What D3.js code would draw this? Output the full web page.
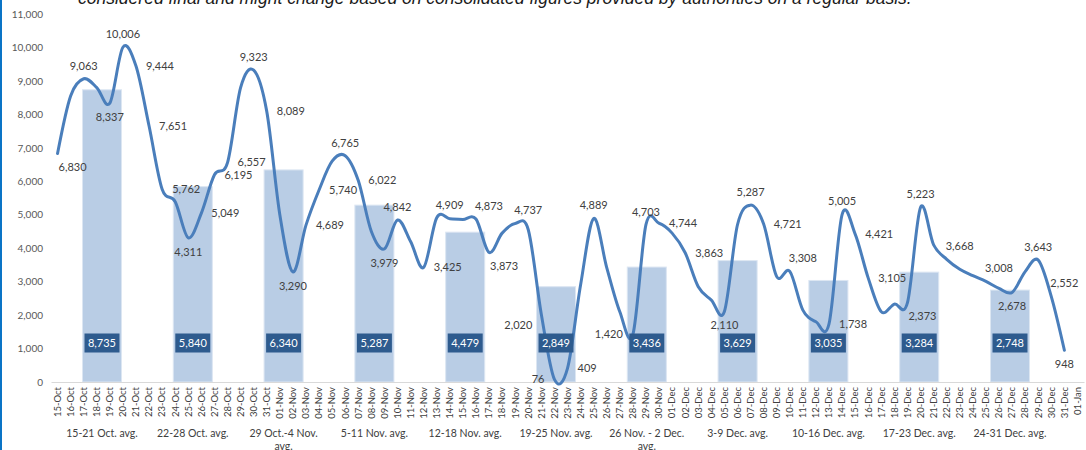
<!DOCTYPE html>
<html>
<head>
<meta charset="utf-8">
<script src="https://cdn.jsdelivr.net/npm/d3@7"></script>
<style>
body { margin: 0; background: #fff; }
svg { display: block; font-family: Lato, "Open Sans", sans-serif; }
.top-note { font-family: "Liberation Sans", sans-serif; font-style: italic; font-size: 17.5px; fill: #1a1a1a; }
.yaxis text { font-size: 10px; fill: #595959; font-family: Lato, sans-serif; }
.xaxis text { font-size: 9.5px; fill: #404040; font-family: Lato, sans-serif; }
.xaxis path { stroke: #d9d9d9; }
.week { font-size: 10.5px; fill: #404040; }
.val { font-size: 11px; fill: #404040; }
.bar { fill: #b9cde5; stroke: #dce6f2; stroke-width: 1; }
.avg-box { fill: #2e5b8e; }
.avg-text { font-size: 11px; fill: #fff; }
.daily { fill: none; stroke: #4a7ebb; stroke-width: 3; stroke-linejoin: round; stroke-linecap: round; }
</style>
</head>
<body>
<svg id="chart" width="1086" height="450"></svg>
<script>
// daily categories on the x axis
var days = ["15-Oct", "16-Oct", "17-Oct", "18-Oct", "19-Oct", "20-Oct", "21-Oct", "22-Oct", "23-Oct",
  "24-Oct", "25-Oct", "26-Oct", "27-Oct", "28-Oct", "29-Oct", "30-Oct", "31-Oct",
  "01-Nov", "02-Nov", "03-Nov", "04-Nov", "05-Nov", "06-Nov", "07-Nov", "08-Nov", "09-Nov", "10-Nov",
  "11-Nov", "12-Nov", "13-Nov", "14-Nov", "15-Nov", "16-Nov", "17-Nov", "18-Nov", "19-Nov", "20-Nov",
  "21-Nov", "22-Nov", "23-Nov", "24-Nov", "25-Nov", "26-Nov", "27-Nov", "28-Nov", "29-Nov", "30-Nov",
  "01-Dec", "02-Dec", "03-Dec", "04-Dec", "05-Dec", "06-Dec", "07-Dec", "08-Dec", "09-Dec", "10-Dec",
  "11-Dec", "12-Dec", "13-Dec", "14-Dec", "15-Dec", "16-Dec", "17-Dec", "18-Dec", "19-Dec", "20-Dec",
  "21-Dec", "22-Dec", "23-Dec", "24-Dec", "25-Dec", "26-Dec", "27-Dec", "28-Dec", "29-Dec", "30-Dec",
  "31-Dec", "01-Jan"];

// daily values (15-Oct .. 31-Dec)
var daily = [6830, 8550, 9063, 8800, 8337, 10006, 9444, 7651, 5762, 5390, 4311, 5049, 6195, 6557,
  8800, 9323, 8089, 5000, 3290, 4689, 5740, 6600, 6765, 6022, 4500, 3979, 4842, 4200, 3425,
  4909, 4880, 4860, 4873, 3873, 4450, 4737, 4550, 2020, 76, 409, 2900, 4889, 3420, 2100, 1420,
  4703, 4744, 4450, 3863, 2850, 2450, 2110, 4700, 5287, 4721, 3150, 3308, 2150, 1800, 1738,
  5005, 4421, 3105, 2100, 2330, 2373, 5223, 4100, 3668, 3370, 3180, 3008, 2800, 2678, 3300,
  3643, 2552, 948];

// which daily points carry a value label, and where ("" = none)
var labelPos = ["br", "", "t", "", "b", "t", "r", "r", "r", "", "b", "r", "r", "r",
  "", "t", "r", "", "b", "r", "r", "", "t", "r", "", "b", "t", "", "r",
  "tr", "", "", "tr", "br", "", "tr", "", "bl", "l", "r", "", "t", "", "", "l",
  "t", "r", "", "r", "", "", "b", "", "t", "r", "", "tr", "", "", "r",
  "t", "r", "r", "", "", "br", "t", "", "tr", "", "", "tr", "", "b", "",
  "t", "tr", "b"];

// weekly averages (bars)
var weeks = ["15-21 Oct. avg.", "22-28 Oct. avg.", "29 Oct.-4 Nov. avg.", "5-11 Nov. avg.",
  "12-18 Nov. avg.", "19-25 Nov. avg.", "26 Nov. - 2 Dec. avg.", "3-9 Dec. avg.",
  "10-16 Dec. avg.", "17-23 Dec. avg.", "24-31 Dec. avg."];
var weekAvg = [8735, 5840, 6340, 5287, 4479, 2849, 3436, 3629, 3035, 3284, 2748];

var yTicks = [0, 1000, 2000, 3000, 4000, 5000, 6000, 7000, 8000, 9000, 10000, 11000];

var note = "considered final and might change based on consolidated figures provided by authorities on a regular basis.";

var svg = d3.select("#chart");
var fmt = d3.format(",");

var x = d3.scaleBand().domain(days).range([51, 1084]);
var xw = d3.scalePoint().domain(weeks).range([56.6, 1055.4]).padding(0.5);
var y = d3.scaleLinear().domain([0, 11000]).range([382, 14]);

function cx(i) {
  return x(days[i]) + x.bandwidth() / 2;
}

// cut-off note at the very top
svg.append("text")
  .attr("class", "top-note")
  .attr("x", 78)
  .attr("y", 4)
  .text(note);

// blue frame edge on the left
svg.append("line")
  .attr("x1", 1).attr("x2", 1)
  .attr("y1", 0).attr("y2", 450)
  .attr("stroke", "#0a74c6")
  .attr("stroke-width", 2);

// y axis labels only
var yAxis = svg.append("g")
  .attr("class", "yaxis")
  .attr("transform", "translate(46,0)")
  .call(d3.axisLeft(y).tickValues(yTicks).tickSize(0).tickPadding(3).tickFormat(fmt));
yAxis.select(".domain").remove();

// weekly bars
var barW = xw.step() * 0.43;
svg.append("g").selectAll("rect")
  .data(weekAvg)
  .enter()
  .append("rect")
  .attr("class", "bar")
  .attr("x", function(d, i) { return xw(weeks[i]) - barW / 2; })
  .attr("y", function(d) { return y(d); })
  .attr("width", barW)
  .attr("height", function(d) { return y(0) - y(d); });

// x axis with rotated day labels
var xAxis = svg.append("g")
  .attr("class", "xaxis")
  .attr("transform", "translate(0," + y(0) + ")")
  .call(d3.axisBottom(x).tickSize(0).tickSizeOuter(0));
xAxis.selectAll(".tick text")
  .attr("transform", "rotate(-90)")
  .attr("text-anchor", "end")
  .attr("x", -5)
  .attr("y", 0)
  .attr("dy", "0.35em");

// week captions under the axis; long ones drop "avg." to a second line
svg.append("g").selectAll("text")
  .data(weeks)
  .enter()
  .append("text")
  .attr("class", "week")
  .attr("text-anchor", "middle")
  .attr("x", function(d) { return xw(d); })
  .attr("y", 437)
  .each(function(d) {
    var t = d3.select(this);
    var first = t.append("tspan").attr("x", xw(d)).text(d);
    if (first.node().getComputedTextLength() > 74) {
      var cut = d.lastIndexOf(" ");
      first.text(d.slice(0, cut));
      t.append("tspan").attr("x", xw(d)).attr("dy", "1.25em").text(d.slice(cut + 1));
    }
  });

// daily smoothed line
var line = d3.line()
  .x(function(d, i) { return cx(i); })
  .y(function(d) { return y(d); })
  .curve(d3.curveCardinal.tension(0));

svg.append("path")
  .datum(daily)
  .attr("class", "daily")
  .attr("d", line);

// value labels on the line
var offs = {
  t: [0, -13, "middle"],
  b: [0, 14, "middle"],
  r: [10, 0, "start"],
  l: [-10, 0, "end"],
  tr: [13, -13, "middle"],
  br: [15, 14, "middle"],
  bl: [-9, 11, "end"]
};
svg.append("g").selectAll("text")
  .data(daily.map(function(d, i) { return {v: d, i: i, p: labelPos[i]}; })
    .filter(function(d) { return d.p; }))
  .enter()
  .append("text")
  .attr("class", "val")
  .attr("x", function(d) { return cx(d.i) + offs[d.p][0]; })
  .attr("y", function(d) { return y(d.v) + offs[d.p][1]; })
  .attr("dy", "0.35em")
  .attr("text-anchor", function(d) { return offs[d.p][2]; })
  .text(function(d) { return fmt(d.v); });

// dark boxes with the weekly average near the bar foot
var boxW = 35, boxH = 19;
var boxes = svg.append("g").selectAll("g")
  .data(weekAvg)
  .enter()
  .append("g")
  .attr("transform", function(d, i) {
    return "translate(" + xw(weeks[i]) + "," + (y(0) - 39) + ")";
  });
boxes.append("rect")
  .attr("class", "avg-box")
  .attr("x", -boxW / 2)
  .attr("y", -boxH / 2)
  .attr("width", boxW)
  .attr("height", boxH);
boxes.append("text")
  .attr("class", "avg-text")
  .attr("text-anchor", "middle")
  .attr("dy", "0.36em")
  .text(function(d) { return fmt(d); });
</script>
</body>
</html>
